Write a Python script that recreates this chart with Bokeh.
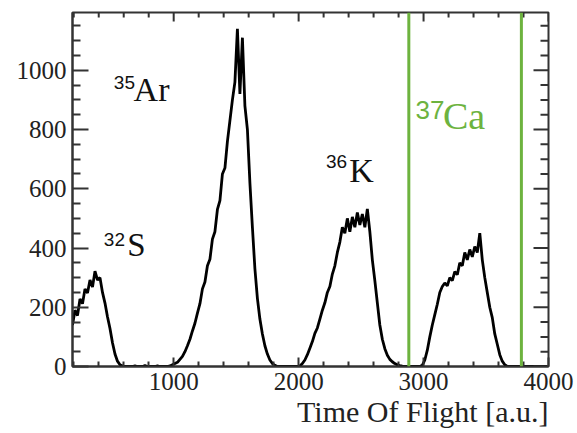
import math
from bokeh.plotting import figure
from bokeh.models import FixedTicker, Span, Label, Range1d, Title
from bokeh.embed import file_html
from bokeh.resources import INLINE

# ---- data ----
tof = list(range(190, 4000, 20))  # bin positions [a.u.]
counts = [
    140, 190, 172, 228, 212, 262, 248, 292, 268, 322,
    292, 300, 250, 214, 168, 128, 80, 42, 18, 6,
    2, 0, 0, 0, 0, 2, 0, 0, 0, 3,
    0, 0, 0, 0, 2, 0, 0, 0, 0, 2,
    6, 10, 14, 24, 34, 50, 70, 92, 120, 146,
    180, 212, 262, 285, 340, 362, 430, 455, 530, 560,
    650, 670, 760, 830, 900, 960, 1140, 920, 1110, 880,
    800, 620, 470, 330, 230, 160, 110, 70, 42, 22,
    10, 4, 0, 0, 0, 0, 0, 0, 0, 0,
    0, 2, 10, 22, 40, 62, 84, 112, 130, 160,
    190, 215, 250, 270, 312, 340, 385, 420, 470, 450,
    500, 455, 505, 470, 520, 478, 515, 470, 532, 455,
    360, 290, 215, 140, 92, 60, 38, 24, 16, 10,
    6, 3, 1, 0, 0, 0, 0, 0, 0, 0,
    4, 22, 55, 100, 140, 175, 210, 250, 270, 282,
    272, 300, 290, 320, 310, 350, 340, 385, 360, 395,
    370, 405, 385, 450, 360, 300, 250, 200, 165, 110,
    75, 40, 18, 6, 0, 0, 0, 0, 0, 0,
    0, 0, 0, 0, 0, 0, 0, 0, 0, 0,
    0,
]
X_START, X_END = 190, 4000
Y_START, Y_END = 0, 1195
x_ticks = [1000, 2000, 3000, 4000]
x_minor = [200, 400, 600, 800, 1200, 1400, 1600, 1800,
           2200, 2400, 2600, 2800, 3200, 3400, 3600, 3800]
y_ticks = [0, 200, 400, 600, 800, 1000]
y_minor = [50, 100, 150, 250, 300, 350, 450, 500, 550,
           650, 700, 750, 850, 900, 950, 1050, 1100, 1150]
gate_lines = [2882, 3783]

# (sup x, sup baseline, symbol baseline, superscript, symbol, colour, sup size, sym size, sym x)
isotopes = [
    (521, 960, 936, "35", "Ar", "#111111", "19px", "34px", 679),
    (441, 428, 409, "32", "S", "#111111", "19px", "33px", 629),
    (2219, 691, 661, "36", "K", "#111111", "19px", "34px", 2406),
    (2935, 867, 845, "37", "Ca", "#6DB33F", "26px", "38px", 3155),
]

SERIF = "Liberation Serif"
GREEN = "#6DB33F"
DARK = "#333333"

p = figure(width=577, height=433, output_backend="svg", toolbar_location=None,
           x_range=Range1d(X_START, X_END), y_range=Range1d(Y_START, Y_END),
           min_border_left=72, min_border_right=29, min_border_top=12,
           min_border_bottom=67)
p.grid.visible = False
p.outline_line_color = DARK
p.outline_line_width = 2
p.background_fill_color = "white"
p.border_fill_color = "white"

p.line(tof, counts, line_color="black", line_width=2.8)

for gx in gate_lines:
    p.add_layout(Span(location=gx, dimension="height", line_color=GREEN, line_width=3))

xax = p.below[0]
yax = p.left[0]
xax.ticker = FixedTicker(ticks=x_ticks, minor_ticks=x_minor)
yax.ticker = FixedTicker(ticks=y_ticks, minor_ticks=y_minor)

def style(ax, maj, mnr):
    ax.major_tick_in = maj
    ax.major_tick_out = 0
    ax.minor_tick_in = mnr
    ax.minor_tick_out = 0
    ax.axis_line_width = 2
    ax.axis_line_color = DARK
    ax.major_tick_line_width = 2
    ax.minor_tick_line_width = 2
    ax.major_tick_line_color = DARK
    ax.minor_tick_line_color = DARK
    ax.major_label_text_font = SERIF
    ax.major_label_text_font_size = "25px"
    ax.major_label_text_color = "#222222"
    ax.major_label_standoff = 6

style(xax, 9, 5)
style(yax, 16, 8)

# mirrored ticks on the top and right frame edges
p.ray(x=x_ticks, y=[Y_END] * len(x_ticks), length=9, length_units="screen",
      angle=-math.pi / 2, line_color=DARK, line_width=2)
p.ray(x=x_minor, y=[Y_END] * len(x_minor), length=5, length_units="screen",
      angle=-math.pi / 2, line_color=DARK, line_width=2)
p.ray(x=[X_END] * len(y_ticks), y=y_ticks, length=15, length_units="screen",
      angle=math.pi, line_color=DARK, line_width=2)
p.ray(x=[X_END] * len(y_minor), y=y_minor, length=8, length_units="screen",
      angle=math.pi, line_color=DARK, line_width=2)

p.add_layout(Title(text="Time Of Flight [a.u.]", align="right", text_font=SERIF,
                   text_font_size="30px", text_color="#222222", text_font_style="normal",
                   standoff=0), "below")

for sx, sy, by, sup, sym, col, ssz, bsz, bx in isotopes:
    p.add_layout(Label(x=sx, y=sy, text=sup, text_align="left", text_baseline="alphabetic",
                       text_font="Liberation Sans", text_font_size=ssz, text_color=col))
    p.add_layout(Label(x=bx, y=by, text=sym, text_align="left", text_baseline="alphabetic",
                       text_font=SERIF, text_font_size=bsz, text_color=col))

open("out.html", "w").write(file_html(p, INLINE))
